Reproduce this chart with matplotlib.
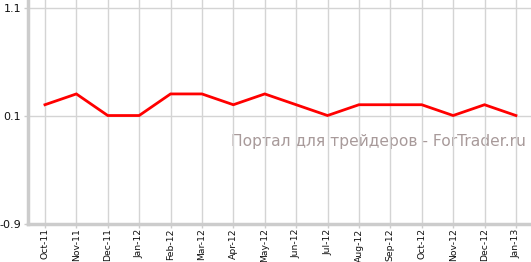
import matplotlib
matplotlib.use("Agg")
import matplotlib.pyplot as plt

months = ["Oct-11", "Nov-11", "Dec-11", "Jan-12", "Feb-12", "Mar-12", "Apr-12", "May-12",
          "Jun-12", "Jul-12", "Aug-12", "Sep-12", "Oct-12", "Nov-12", "Dec-12", "Jan-13"]
values = [0.2, 0.3, 0.1, 0.1, 0.3, 0.3, 0.2, 0.3, 0.2, 0.1, 0.2, 0.2, 0.2, 0.1, 0.2, 0.1]
yticks = [-0.9, 0.1, 1.1]
ytick_labels = ["-0.9", "0.1", "1.1"]
watermark = "Портал для трейдеров - ForTrader.ru"

W, H = 531, 262
fig = plt.figure(figsize=(W / 100, H / 100), dpi=100)
ax = fig.add_axes([28 / W, (H - 223.5) / H, (W - 28) / W, 223.5 / H])

x = list(range(len(months)))
ax.plot(x, values, color="#ff0000", lw=2, zorder=3, solid_joinstyle="miter")

ax.set_xlim(-0.54, len(months) - 0.52)
ax.set_ylim(-0.9, 1.17)
ax.set_xticks(x)
ax.set_xticklabels(months, rotation=90, fontsize=6.7, family="DejaVu Sans")
ax.set_yticks(yticks)
ax.set_yticklabels(ytick_labels, fontsize=8, family="DejaVu Sans")

ax.grid(True, color="#d4d4d4", lw=1, zorder=1)
for s in ["top", "right"]:
    ax.spines[s].set_visible(False)
for s in ["left", "bottom"]:
    ax.spines[s].set_color("#cccccc")
    ax.spines[s].set_linewidth(2.5)
ax.tick_params(axis="both", color="#cccccc", length=3, width=1, pad=2, labelcolor="#111111")
ax.tick_params(axis="x", pad=0.5)

ax.text(0.99, 0.365, watermark, transform=ax.transAxes, ha="right", va="center",
        fontsize=11.2, color="#a89a9a", family="DejaVu Sans", zorder=0.5)

fig.savefig("out.png", dpi=100, facecolor="white")
